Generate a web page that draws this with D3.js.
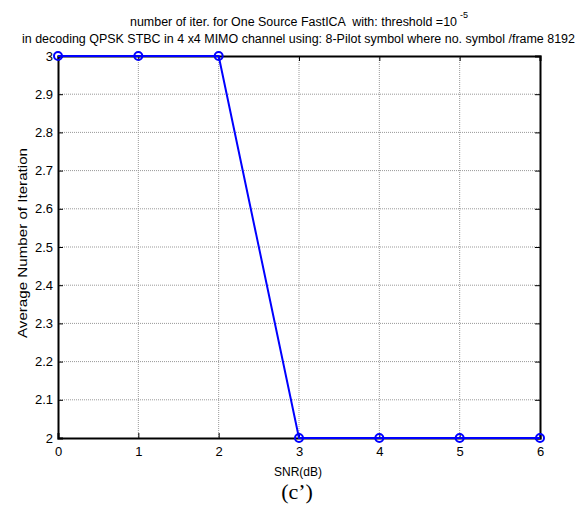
<!DOCTYPE html>
<html><head><meta charset="utf-8">
<script src="https://cdn.jsdelivr.net/npm/d3@7"></script>
<style>body{margin:0;background:#fff}svg{display:block}text{font-family:Arial,"Liberation Sans",sans-serif;white-space:pre}</style>
</head><body>
<svg id="c" width="586" height="506"></svg>
<script>
const snr = [0, 1, 2, 3, 4, 5, 6];
const avgIter = [3, 3, 3, 2, 2, 2, 2];
const xTicks = [0, 1, 2, 3, 4, 5, 6];
const yTicks = [2, 2.1, 2.2, 2.3, 2.4, 2.5, 2.6, 2.7, 2.8, 2.9, 3];

const svg = d3.select("#c");
const L = 58, R = 540, T = 56, B = 438;
const x = d3.scaleLinear().domain([0, 6]).range([L, R]);
const y = d3.scaleLinear().domain([2, 3]).range([B, T]);

// grid
const g = svg.append("g");
g.selectAll(".gx").data(xTicks.slice(1, -1)).enter().append("line")
  .attr("x1", d => x(d)).attr("x2", d => x(d)).attr("y1", T).attr("y2", B)
  .attr("stroke", "#999").attr("stroke-width", 1).attr("stroke-dasharray", "1,1");
g.selectAll(".gy").data(yTicks.slice(1, -1)).enter().append("line")
  .attr("y1", d => y(d)).attr("y2", d => y(d)).attr("x1", L).attr("x2", R)
  .attr("stroke", "#999").attr("stroke-width", 1).attr("stroke-dasharray", "1,1");

// axes
const fmt = d => d3.format("")(+d.toFixed(1));
svg.append("g").attr("transform", `translate(0,${B})`)
  .call(d3.axisBottom(x).tickValues(xTicks).tickSize(-5).tickPadding(9).tickFormat(d3.format("d")))
  .call(a => a.select(".domain").attr("stroke-width", 2))
  .call(a => a.selectAll("text").attr("font-size", 13).attr("fill", "#000"));
svg.append("g").attr("transform", `translate(0,${T})`)
  .call(d3.axisTop(x).tickValues(xTicks).tickSize(-5).tickFormat(""))
  .call(a => a.select(".domain").attr("stroke-width", 2));
svg.append("g").attr("transform", `translate(${L},0)`)
  .call(d3.axisLeft(y).tickValues(yTicks).tickSize(-5).tickPadding(5).tickFormat(fmt))
  .call(a => a.select(".domain").attr("stroke-width", 2))
  .call(a => a.selectAll("text").attr("font-size", 13).attr("fill", "#000"));
svg.append("g").attr("transform", `translate(${R},0)`)
  .call(d3.axisRight(y).tickValues(yTicks).tickSize(-5).tickFormat(""))
  .call(a => a.select(".domain").attr("stroke-width", 2));
svg.selectAll(".domain").attr("stroke", "#000");
svg.selectAll(".tick line").attr("stroke", "#000");

// line
const line = d3.line().x((d, i) => x(snr[i])).y(d => y(d));
svg.append("path").datum(avgIter).attr("d", line)
  .attr("fill", "none").attr("stroke", "#0000ff").attr("stroke-width", 2);
svg.selectAll(".m").data(avgIter).enter().append("circle")
  .attr("cx", (d, i) => x(snr[i])).attr("cy", d => y(d)).attr("r", 4)
  .attr("fill", "none").attr("stroke", "#0000ff").attr("stroke-width", 2);

// titles
svg.append("text").attr("x", 130).attr("y", 26)
  .attr("font-size", 12.5).attr("textLength", 327).attr("lengthAdjust", "spacingAndGlyphs")
  .text("number of iter. for One Source FastICA  with: threshold =10");
svg.append("text").attr("x", 460).attr("y", 18).attr("font-size", 9).text("-5");
svg.append("text").attr("x", 22).attr("y", 43)
  .attr("font-size", 12.5).attr("textLength", 553).attr("lengthAdjust", "spacingAndGlyphs")
  .text("in decoding QPSK STBC in 4 x4 MIMO channel using: 8-Pilot symbol where no. symbol /frame 8192");

svg.append("text").attr("x", 298).attr("y", 476).attr("text-anchor", "middle")
  .attr("font-size", 12).text("SNR(dB)");
svg.append("text").attr("transform", `translate(27,243) rotate(-90)`)
  .attr("text-anchor", "middle").attr("font-size", 12)
  .attr("textLength", 190).attr("lengthAdjust", "spacingAndGlyphs").text("Average Number of Iteration");
svg.append("text").attr("x", 297).attr("y", 499).attr("text-anchor", "middle")
  .attr("font-size", 22).style("font-family", "'Liberation Serif','Times New Roman',serif").text("(c’)");
</script>
</body></html>
